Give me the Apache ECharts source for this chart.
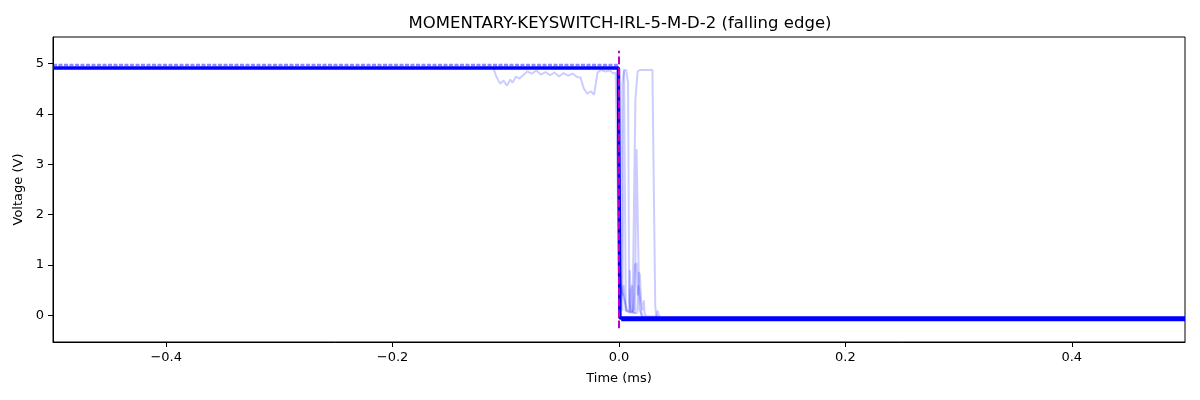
<!DOCTYPE html>
<html>
<head>
<meta charset="utf-8">
<script src="https://cdn.jsdelivr.net/npm/echarts@6/dist/echarts.min.js"></script>
<style>html,body{margin:0;padding:0;background:#fff;}#c{width:1200px;height:400px;}</style>
</head>
<body>
<div id="c"></div>
<script>
// ---- data ----
const xTicks = [-0.4, -0.2, 0.0, 0.2, 0.4];
const yTicks = [0, 1, 2, 3, 4, 5];

const mainT = [-0.5, -0.0005, 0.0008, 0.5];
const mainV = [4.91, 4.91, -0.05, -0.05];

const lowBandT = [0.002, 0.5];
const lowBandV = [-0.08, -0.08];

const fringeT = [-0.5, -0.001];
const fringeV = [4.97, 4.97];

const traceAT = [-0.5, -0.111, -0.108, -0.105, -0.102, -0.099, -0.096, -0.094, -0.091, -0.088, -0.085, -0.081, -0.077, -0.073, -0.069, -0.065, -0.061, -0.057, -0.053, -0.049, -0.045, -0.041, -0.037, -0.034, -0.031, -0.028, -0.025, -0.022, -0.019, -0.016, -0.012, -0.008, -0.005, -0.003, -0.002, 0.0005, 0.5];
const traceAV = [4.91, 4.91, 4.72, 4.6, 4.66, 4.56, 4.68, 4.62, 4.74, 4.7, 4.76, 4.84, 4.8, 4.86, 4.78, 4.83, 4.77, 4.82, 4.74, 4.81, 4.76, 4.8, 4.73, 4.72, 4.5, 4.4, 4.45, 4.38, 4.82, 4.87, 4.84, 4.86, 4.8, 4.82, 3.7, -0.05, -0.05];

const traceBT = [0.0, 0.002, 0.003, 0.0045, 0.0065, 0.008, 0.009, 0.0105, 0.012, 0.0145, 0.0165, 0.0185, 0.0295, 0.031, 0.032, 0.033, 0.5];
const traceBV = [0.2, 0.3, 4.6, 4.87, 4.87, 4.6, 0.3, 0.05, 0.1, 4.3, 4.84, 4.87, 4.87, 4.84, 0.2, -0.05, -0.05];

const traceCT = [0.0, 0.003, 0.0045, 0.006, 0.014, 0.0155, 0.0165, 0.018, 0.022, 0.5];
const traceCV = [0.4, 0.1, 4.86, 0.1, 0.05, 3.3, 3.3, 0.1, -0.05, -0.05];

const traceDT = [0.0, 0.001, 0.003, 0.005, 0.007, 0.009, 0.0095, 0.0105, 0.011, 0.013, 0.014, 0.0155, 0.0165, 0.0175, 0.0185, 0.0195, 0.0205, 0.022, 0.0225, 0.024, 0.0335, 0.034, 0.0345, 0.036, 0.5];
const traceDV = [0.9, 0.6, 0.45, 0.3, 0.12, 0.1, 0.9, 0.9, 0.08, 0.1, 1.0, 1.04, 0.4, 0.86, 0.8, 0.3, 0.1, 0.3, 0.05, -0.02, -0.02, 0.1, 0.1, -0.05, -0.05];

const traceET = [-0.001, 0.0, 0.0015, 0.003, 0.004, 0.006, 0.0095, 0.010, 0.0115, 0.0125, 0.016, 0.017, 0.018, 0.02, 0.5];
const traceEV = [4.85, 1.2, 0.7, 0.4, 0.6, 0.1, 0.05, 0.5, 0.6, 0.05, 0.05, 0.6, 0.5, -0.05, -0.05];

const markerT = [0, 0];
const markerV = [-0.25, 5.25];

function zip(a, b) { return a.map((v, i) => [v, b[i]]); }
function fmt(v, d) {
  let s = Number(v).toFixed(d);
  if (Number(s) === 0) s = (0).toFixed(d);
  return s.replace('-', '\u2212');
}

const light = 'rgba(0,0,255,0.2)';
function lightSeries(t, v) {
  return { type: 'line', data: zip(t, v), showSymbol: false, silent: true,
    lineStyle: { color: light, width: 2 }, z: 2 };
}

const chart = echarts.init(document.getElementById('c'), null, { renderer: 'canvas' });
chart.setOption({
  animation: false,
  backgroundColor: '#fff',
  textStyle: { fontFamily: 'DejaVu Sans' },
  title: {
    text: 'MOMENTARY-KEYSWITCH-IRL-5-M-D-2 (falling edge)',
    left: 615, top: 10, textAlign: 'center',
    textStyle: { fontFamily: 'DejaVu Sans', fontSize: 16.5, fontWeight: 'normal', color: '#000' }
  },
  grid: { left: 53, right: 15, top: 37, bottom: 58, show: true, borderColor: '#000', borderWidth: 1, backgroundColor: 'transparent' },
  xAxis: {
    type: 'value', min: -0.5, max: 0.5,
    name: 'Time (ms)', nameLocation: 'middle', nameGap: 30,
    nameTextStyle: { fontFamily: 'DejaVu Sans', fontSize: 13, color: '#000' },
    axisLine: { show: true, onZero: false, lineStyle: { color: '#000', width: 1 } },
    axisTick: { show: true, length: 5, lineStyle: { color: '#000' }, customValues: xTicks },
    axisLabel: { color: '#000', fontSize: 13, margin: 9, customValues: xTicks, formatter: v => fmt(v, 1) },
    splitLine: { show: false }
  },
  yAxis: {
    type: 'value', min: -0.525, max: 5.525,
    name: 'Voltage (V)', nameLocation: 'middle', nameGap: 26, nameRotate: 90,
    nameTextStyle: { fontFamily: 'DejaVu Sans', fontSize: 13, color: '#000' },
    axisLine: { show: true, onZero: false, lineStyle: { color: '#000', width: 1 } },
    axisTick: { show: true, length: 5, lineStyle: { color: '#000' }, customValues: yTicks },
    axisLabel: { color: '#000', fontSize: 13, margin: 9, customValues: yTicks, formatter: v => fmt(v, 0) },
    splitLine: { show: false }
  },
  series: [
    lightSeries(traceAT, traceAV),
    lightSeries(traceBT, traceBV),
    lightSeries(traceCT, traceCV),
    lightSeries(traceDT, traceDV),
    lightSeries(traceET, traceEV),
    { type: 'line', data: zip(fringeT, fringeV), showSymbol: false, silent: true, z: 3,
      lineStyle: { color: 'rgba(0,0,255,0.45)', width: 2.5, type: [4, 1.5] } },
    { type: 'line', data: zip(lowBandT, lowBandV), showSymbol: false, silent: true, z: 3,
      lineStyle: { color: '#0000ff', width: 3.5 } },
    { type: 'line', data: zip(mainT, mainV), showSymbol: false, silent: true, z: 4,
      lineStyle: { color: '#0000ff', width: 3.5 } },
    { type: 'line', data: zip(markerT, markerV), showSymbol: false, silent: true, z: 5,
      lineStyle: { color: '#bf00bf', width: 2, type: [7.7, 3.3] } }
  ]
});
</script>
</body>
</html>
